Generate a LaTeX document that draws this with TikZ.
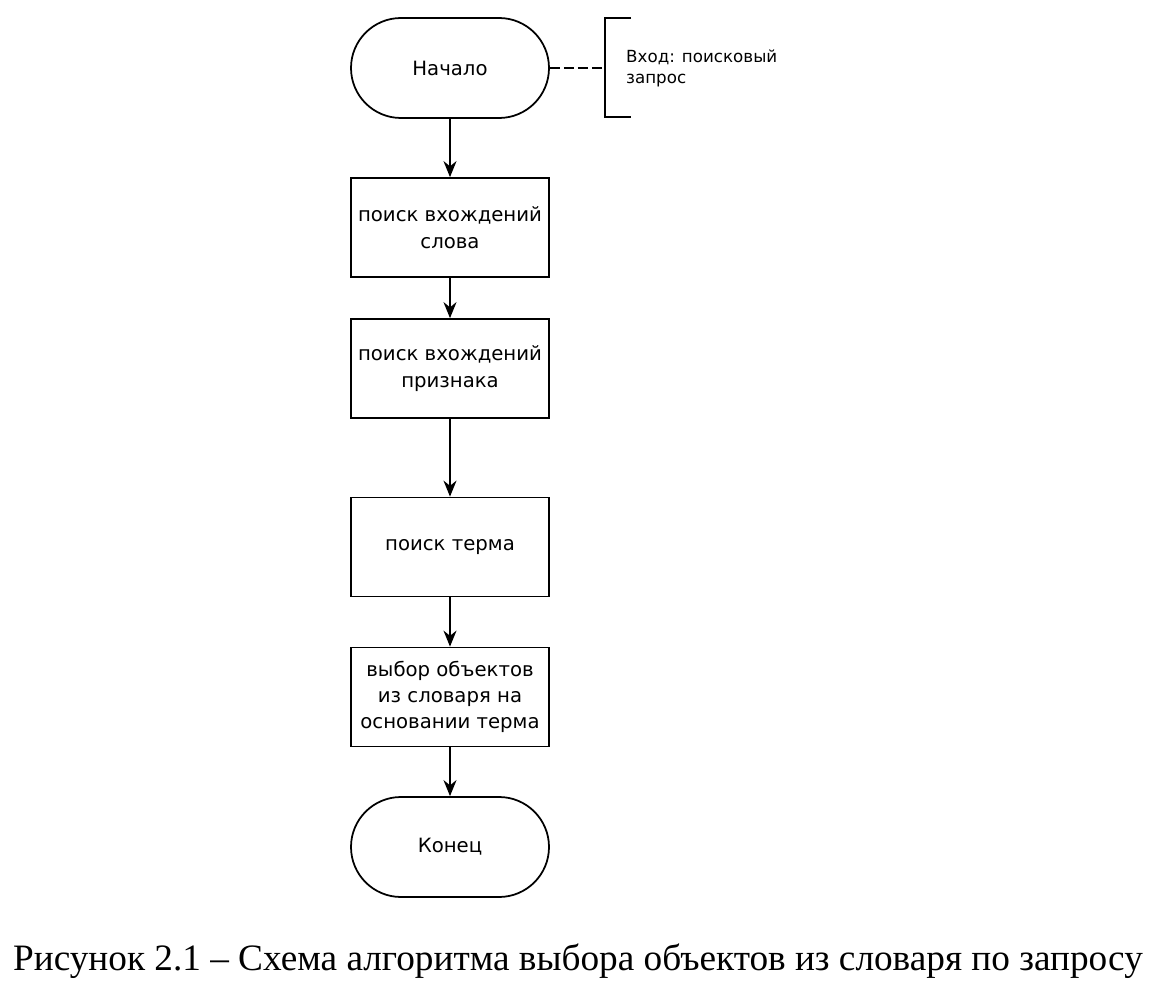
\documentclass[tikz,border=0pt]{standalone}
\usepackage{fontspec}
\setmainfont{Liberation Serif}
\newfontfamily\boxfont{DejaVu Sans}
\usetikzlibrary{arrows.meta}

\tikzset{
	terminal/.style={draw, line width=1pt, rectangle, rounded corners=1cm, minimum width=3.96cm, minimum height=2cm, font=\boxfont\fontsize{11.2}{15}\selectfont},
	process/.style={draw, line width=1pt, rectangle, inner xsep=2pt, minimum width=3.96cm, minimum height=1.98cm, align=center, font=\boxfont\fontsize{11.2}{15}\selectfont},
	flow/.style={line width=1pt, -{Stealth[length=0.32cm, width=0.26cm]}}
}

\begin{document}
\begin{tikzpicture}
	\useasboundingbox (0,0) rectangle (23.12,-20.04);
	
	\node[terminal] (start) at (9,-1.36) {Начало};
	\node[process] (words) at (9,-4.55) {поиск вхождений\\слова};
	\node[process] (feature) at (9,-7.37) {поиск вхождений\\признака};
	\node[process] (term) at (9,-10.94) {поиск терма};
	\node[process] (select) at (9,-13.94) {выбор объектов\\из словаря на\\основании терма};
	\node[terminal] (end) at (9,-16.94) {Конец};
	
	\draw [flow](start) -- (words);
	\draw [flow](words) -- (feature);
	\draw [flow](feature) -- (term);
	\draw [flow](term) -- (select);
	\draw [flow](select) -- (end);
	
	%comment bracket
	\coordinate (brk) at (12.1,-1.36);
	\draw [line width=1pt, dash pattern=on 0.2cm off 0.08cm](start.east) -- (brk);
	\draw [line width=1pt](12.62,-0.36) -| (12.1,-2.34) -- (12.62,-2.34);
	\node [anchor=west, align=left, font=\boxfont\fontsize{9.5}{12}\selectfont] (input) at (12.4,-1.36) {Вход: поисковый\\запрос};
	
	\node [font=\fontsize{21.2}{25}\selectfont] (caption) at (11.56,-19.22) {Рисунок 2.1 – Схема алгоритма выбора объектов из словаря по запросу};
\end{tikzpicture}
\end{document}
